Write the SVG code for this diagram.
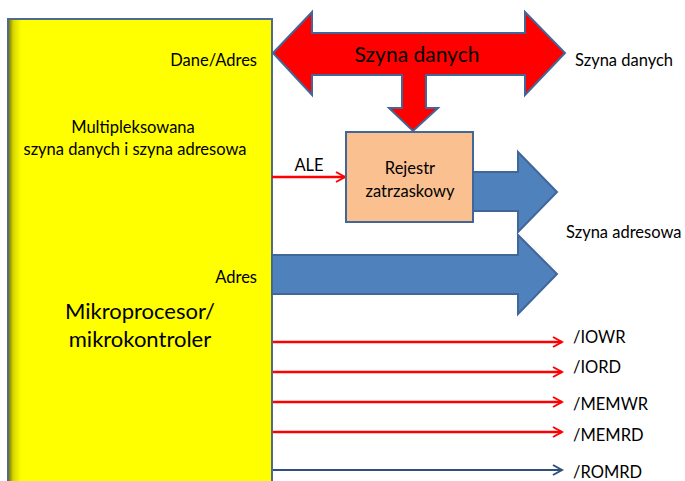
<svg xmlns="http://www.w3.org/2000/svg" width="685" height="481" viewBox="0 0 685 481">
<defs>
<linearGradient id="shade" x1="0" x2="1" y1="0" y2="0">
<stop offset="0" stop-color="#6b6b00"/>
<stop offset="0.02" stop-color="#d8d800"/>
<stop offset="0.05" stop-color="#ffff00"/>
<stop offset="1" stop-color="#ffff00"/>
</linearGradient>
<marker id="redHead" markerWidth="12" markerHeight="12" refX="10" refY="6" orient="auto" markerUnits="userSpaceOnUse">
<path d="M1,1 L10,6 L1,11" fill="none" stroke="#ff0000" stroke-width="2"/>
</marker>
<marker id="blueHead" markerWidth="12" markerHeight="12" refX="10" refY="6" orient="auto" markerUnits="userSpaceOnUse">
<path d="M1,1 L10,6 L1,11" fill="none" stroke="#2f4f7f" stroke-width="2"/>
</marker>
</defs>
<style>
text { font-family: "Lato", "Liberation Sans", sans-serif; fill: #000; }
.sig { stroke: #ff0000; stroke-width: 2.5; fill: none; marker-end: url(#redHead); }
.sigb { stroke: #2f4f7f; stroke-width: 2; fill: none; marker-end: url(#blueHead); }
.bus { stroke: #41679a; stroke-width: 2; stroke-linejoin: miter; }
.lbl { font-size: 16.5px; }
</style>
<rect width="685" height="481" fill="#ffffff"/>

<g id="cpu">
<rect x="8" y="19" width="264" height="470" fill="url(#shade)" stroke="#4d6b94" stroke-width="2"/>
<text x="257" y="66" class="lbl" text-anchor="end">Dane/Adres</text>
<text x="133" y="133" class="lbl" text-anchor="middle">Multipleksowana</text>
<text x="135" y="155" class="lbl" text-anchor="middle">szyna danych i szyna adresowa</text>
<text x="257" y="283" class="lbl" text-anchor="end">Adres</text>
<text x="140" y="319" font-size="22" text-anchor="middle">Mikroprocesor/</text>
<text x="140" y="347" font-size="22" text-anchor="middle">mikrokontroler</text>
</g>

<g id="connectors">
<g id="data-bus">
<path class="bus" fill="#ff0000" d="M273,53 L312,12 L312,33 L525,33 L525,12 L565,53 L525,95 L525,75 L426,75 L426,108 L438,108 L413,131 L389,108 L402,108 L402,75 L312,75 L312,95 Z"/>
<text x="417" y="62" font-size="21" text-anchor="middle">Szyna danych</text>
</g>
<path class="sig" d="M272,177 L345,177"/>
<text x="309" y="171" class="lbl" text-anchor="middle">ALE</text>
<path id="addr-bus-1" class="bus" fill="#4f81bd" d="M473,172 L518,172 L518,152 L557,192 L518,232 L518,211 L473,211 Z"/>
<path id="addr-bus-2" class="bus" fill="#4f81bd" d="M272,255 L518,255 L518,235 L557,274 L518,314 L518,294 L272,294 Z"/>
<path class="sig" d="M273,342 L562,342"/>
<path class="sig" d="M273,372 L562,372"/>
<path class="sig" d="M273,402 L562,402"/>
<path class="sig" d="M273,432 L562,432"/>
<path class="sigb" d="M273,470 L562,470"/>
</g>

<g id="register">
<rect x="346" y="132" width="127" height="90" fill="#fac090" stroke="#41679a" stroke-width="2"/>
<text x="410" y="174" class="lbl" text-anchor="middle">Rejestr</text>
<text x="410" y="197" class="lbl" text-anchor="middle">zatrzaskowy</text>
</g>

<g id="labels">
<text x="575" y="66" class="lbl">Szyna danych</text>
<text x="566" y="238" class="lbl">Szyna adresowa</text>
<text x="573" y="343" class="lbl">/IOWR</text>
<text x="573" y="373" class="lbl">/IORD</text>
<text x="573" y="410" class="lbl">/MEMWR</text>
<text x="573" y="441" class="lbl">/MEMRD</text>
<text x="573" y="478" class="lbl">/ROMRD</text>
</g>
</svg>
